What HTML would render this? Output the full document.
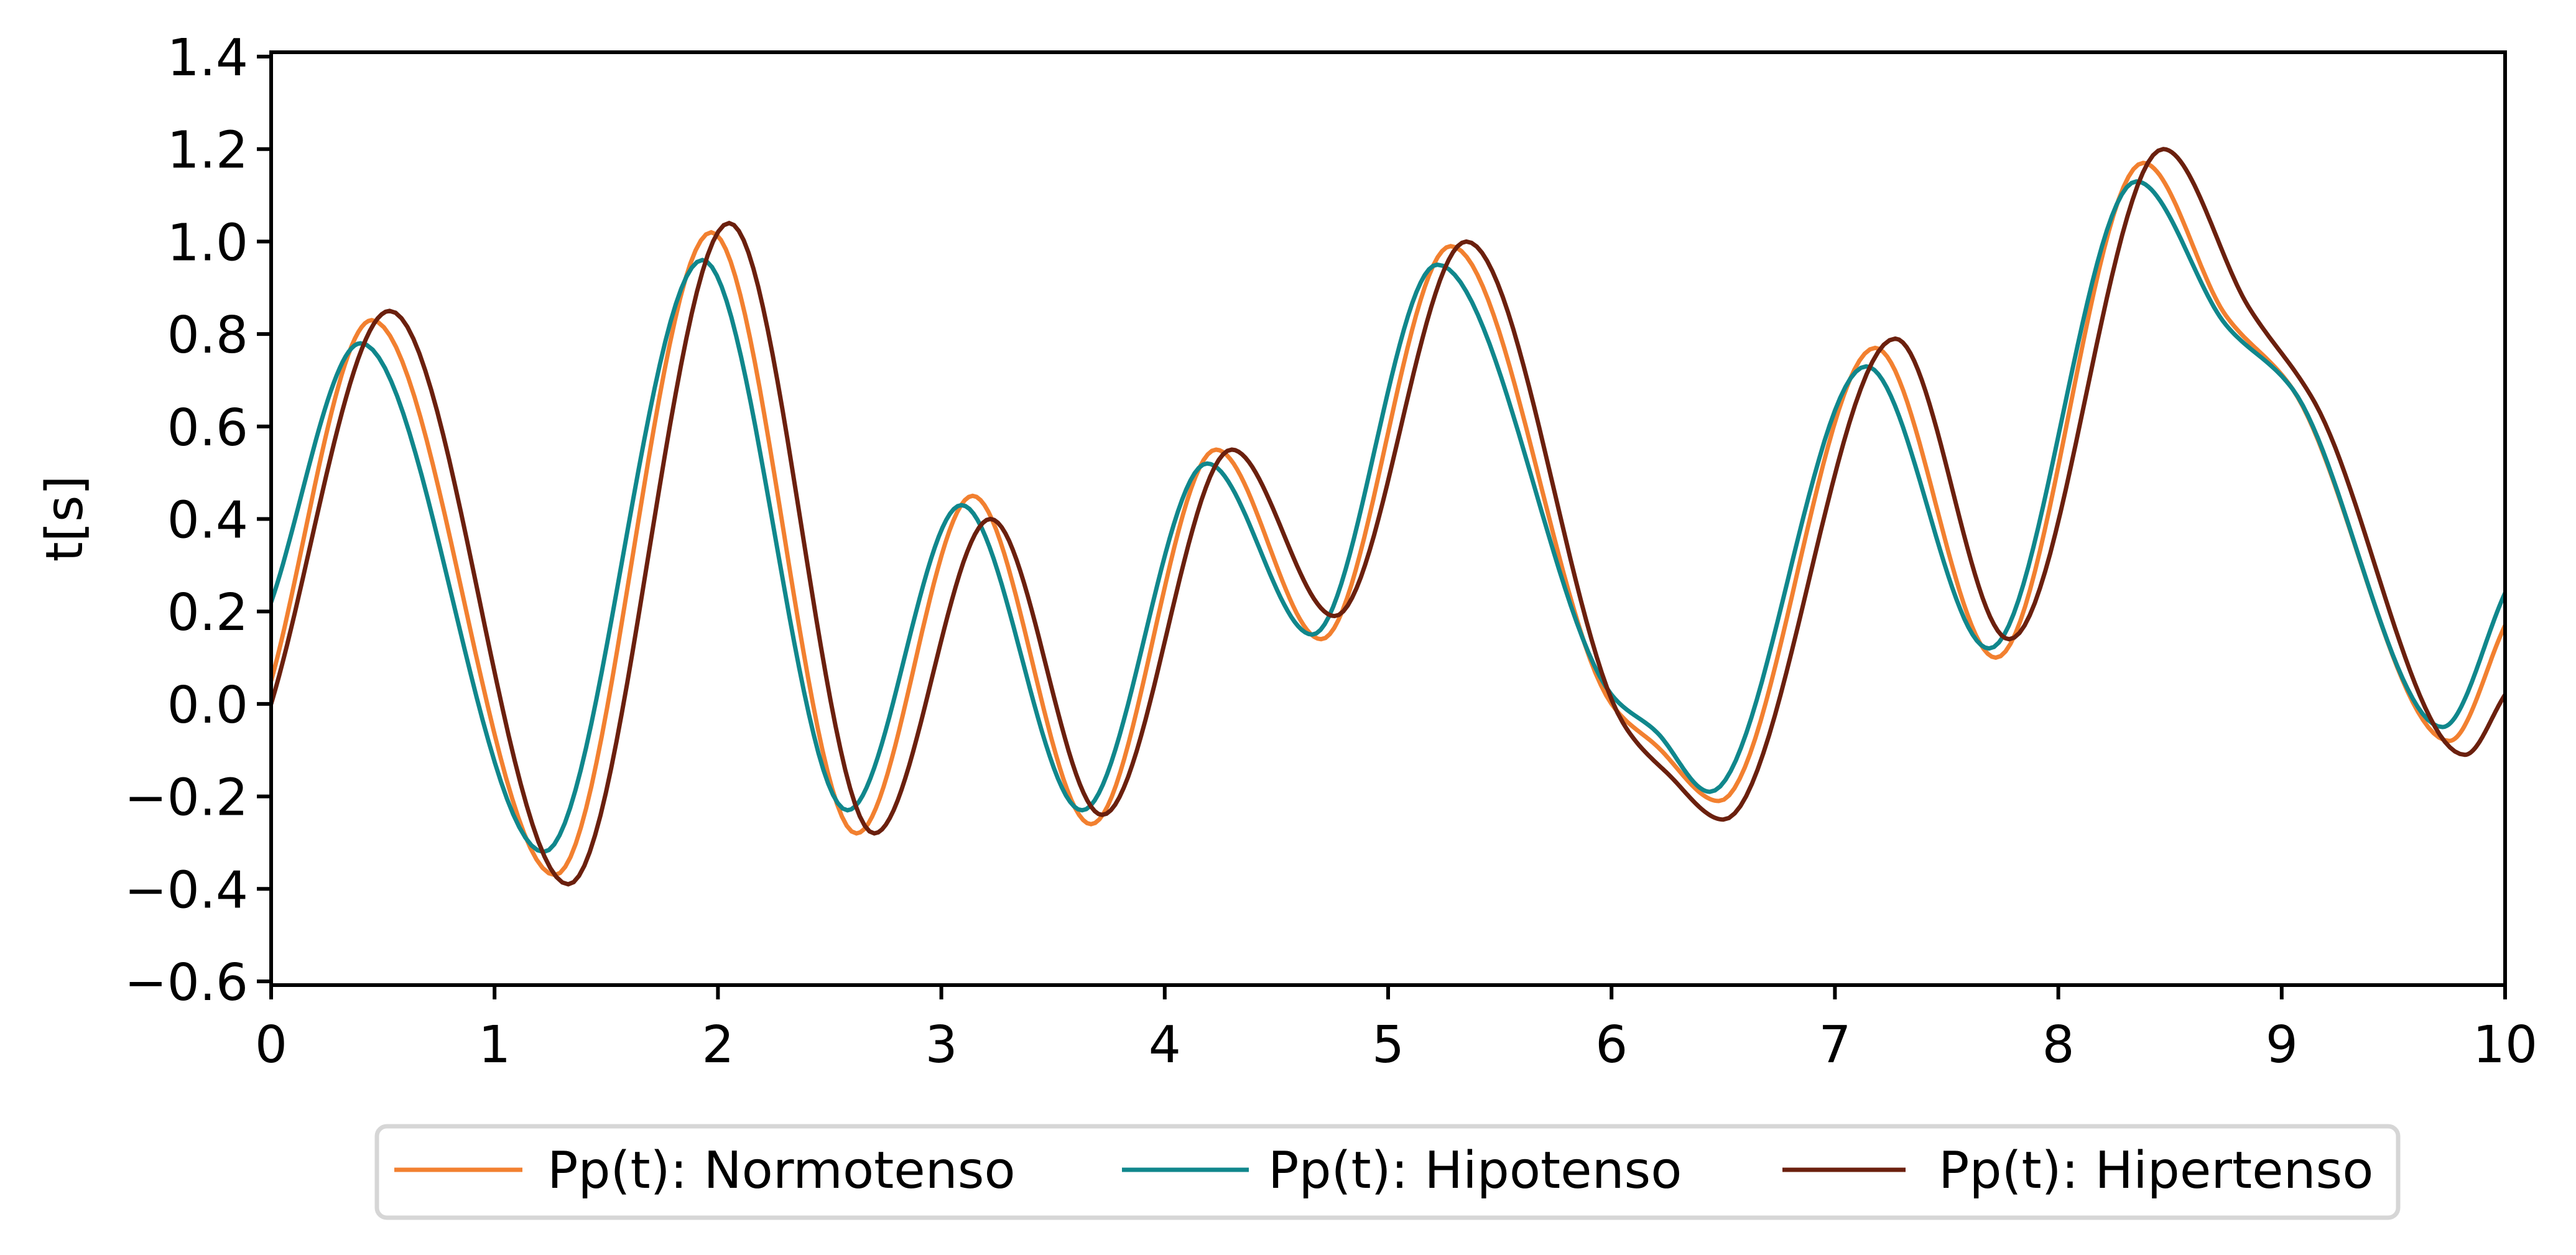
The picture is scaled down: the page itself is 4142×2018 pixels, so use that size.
<!DOCTYPE html>
<html><head><meta charset="utf-8"><style>
html,body{margin:0;padding:0;background:#fff;}
svg{display:block;font-family:"DejaVu Sans","Liberation Sans",sans-serif;}
</style></head><body>
<svg id="chart" width="4142" height="2018" viewBox="0 0 4142 2018" xmlns="http://www.w3.org/2000/svg">
<g id="plot"></g>
<g id="axes"></g>
<text x="0" y="0" font-size="82" text-anchor="middle" transform="translate(132,834) rotate(-90)">t[s]</text>
<g>
<rect x="606" y="1811" width="3250" height="147" rx="16" fill="#fff" stroke="#d6d6d6" stroke-width="7"/>
<g>
<line x1="634" y1="1881" x2="840" y2="1881" stroke="#f28030" stroke-width="7"/>
<text x="880" y="1910" font-size="82">Pp(t): Normotenso</text></g>
<g>
<line x1="1804" y1="1881" x2="2008" y2="1881" stroke="#10878c" stroke-width="7"/>
<text x="2039" y="1910" font-size="82">Pp(t): Hipotenso</text></g>
<g>
<line x1="2866" y1="1881" x2="3064" y2="1881" stroke="#6b200e" stroke-width="7"/>
<text x="3117" y="1910" font-size="82">Pp(t): Hipertenso</text></g>
</g>
</svg>
<script>
const normT = [0,0.45,1.27,1.97,2.62,3.14,3.67,4.23,4.70,5.28,6.0,6.2,6.48,7.18,7.72,8.38,8.75,9.05,9.75,10];
const normV = [0.05,0.83,-0.37,1.02,-0.28,0.45,-0.26,0.55,0.14,0.99,0.0,-0.09,-0.21,0.77,0.10,1.17,0.84,0.68,-0.08,0.17];
const hipoT = [0,0.40,1.22,1.93,2.58,3.09,3.63,4.19,4.66,5.22,6.0,6.2,6.44,7.14,7.69,8.35,8.75,9.05,9.72,10];
const hipoV = [0.22,0.78,-0.32,0.96,-0.23,0.43,-0.23,0.52,0.15,0.95,0.02,-0.06,-0.19,0.73,0.12,1.13,0.82,0.68,-0.05,0.24];
const hiperT = [0,0.53,1.33,2.05,2.70,3.22,3.72,4.30,4.76,5.35,6.05,6.25,6.50,7.27,7.78,8.47,8.85,9.15,9.82,10];
const hiperV = [0.0,0.85,-0.39,1.04,-0.28,0.40,-0.24,0.55,0.19,1.0,-0.04,-0.15,-0.25,0.79,0.14,1.2,0.86,0.65,-0.11,0.02];
const xTicks = [0,1,2,3,4,5,6,7,8,9,10];
const yTicks = [-0.6,-0.4,-0.2,0.0,0.2,0.4,0.6,0.8,1.0,1.2,1.4];
const yTickLabels = ["\u22120.6","\u22120.4","\u22120.2","0.0","0.2","0.4","0.6","0.8","1.0","1.2","1.4"];

const L=436,R=4028,T=84,B=1584;
const xs = t => L + t/10*(R-L);
const ys = v => 91 + (1.4-v)*743.5;
const NS="http://www.w3.org/2000/svg";
const plot=document.getElementById('plot'), axes=document.getElementById('axes');

function mono(t,v){
  const n=t.length, d=[], m=[];
  for(let i=0;i<n-1;i++) d.push((v[i+1]-v[i])/(t[i+1]-t[i]));
  m[0]=d[0]; m[n-1]=d[n-2];
  for(let i=1;i<n-1;i++){ m[i]=(d[i-1]*d[i]<=0)?0:(2/(1/d[i-1]+1/d[i])); }
  let p='';
  for(let i=0;i<n-1;i++){
    const h=t[i+1]-t[i];
    for(let k=0;k<=30;k++){
      if(i>0&&k==0) continue;
      const s=k/30, s2=s*s, s3=s2*s;
      const val=(2*s3-3*s2+1)*v[i]+(s3-2*s2+s)*h*m[i]+(-2*s3+3*s2)*v[i+1]+(s3-s2)*h*m[i+1];
      const tt=t[i]+s*h;
      p+=(p?'L':'M')+xs(tt).toFixed(1)+','+ys(val).toFixed(1);
    }
  }
  return p;
}
function addLine(t,v,color,name){
  const el=document.createElementNS(NS,'path');
  el.setAttribute('d',mono(t,v));
  el.setAttribute('fill','none');
  el.setAttribute('stroke',color);
  el.setAttribute('stroke-width','7');
  
  
  plot.appendChild(el);
}
addLine(normT,normV,'#f28030','series-normotenso');
addLine(hipoT,hipoV,'#10878c','series-hipotenso');
addLine(hiperT,hiperV,'#6b200e','series-hipertenso');

const frame=document.createElementNS(NS,'rect');
frame.setAttribute('x',L);frame.setAttribute('y',T);frame.setAttribute('width',R-L);frame.setAttribute('height',B-T);
frame.setAttribute('fill','none');frame.setAttribute('stroke','#000');frame.setAttribute('stroke-width','6');


axes.appendChild(frame);

xTicks.forEach(t=>{
  const ln=document.createElementNS(NS,'line');
  ln.setAttribute('x1',xs(t));ln.setAttribute('x2',xs(t));ln.setAttribute('y1',B);ln.setAttribute('y2',B+23);
  ln.setAttribute('stroke','#000');ln.setAttribute('stroke-width','6');
  
  
  axes.appendChild(ln);
  const tx=document.createElementNS(NS,'text');
  tx.setAttribute('x',xs(t));tx.setAttribute('y',1708);tx.setAttribute('font-size','82');tx.setAttribute('text-anchor','middle');
  tx.textContent=String(t);
  
  
  axes.appendChild(tx);
});
yTicks.forEach((v,i)=>{
  const ln=document.createElementNS(NS,'line');
  ln.setAttribute('x1',L-23);ln.setAttribute('x2',L);ln.setAttribute('y1',ys(v));ln.setAttribute('y2',ys(v));
  ln.setAttribute('stroke','#000');ln.setAttribute('stroke-width','6');
  
  
  axes.appendChild(ln);
  const tx=document.createElementNS(NS,'text');
  tx.setAttribute('x',399);tx.setAttribute('y',ys(v)+30);tx.setAttribute('font-size','82');tx.setAttribute('text-anchor','end');
  tx.textContent=yTickLabels[i];
  
  
  axes.appendChild(tx);
});
</script>
</body></html>
